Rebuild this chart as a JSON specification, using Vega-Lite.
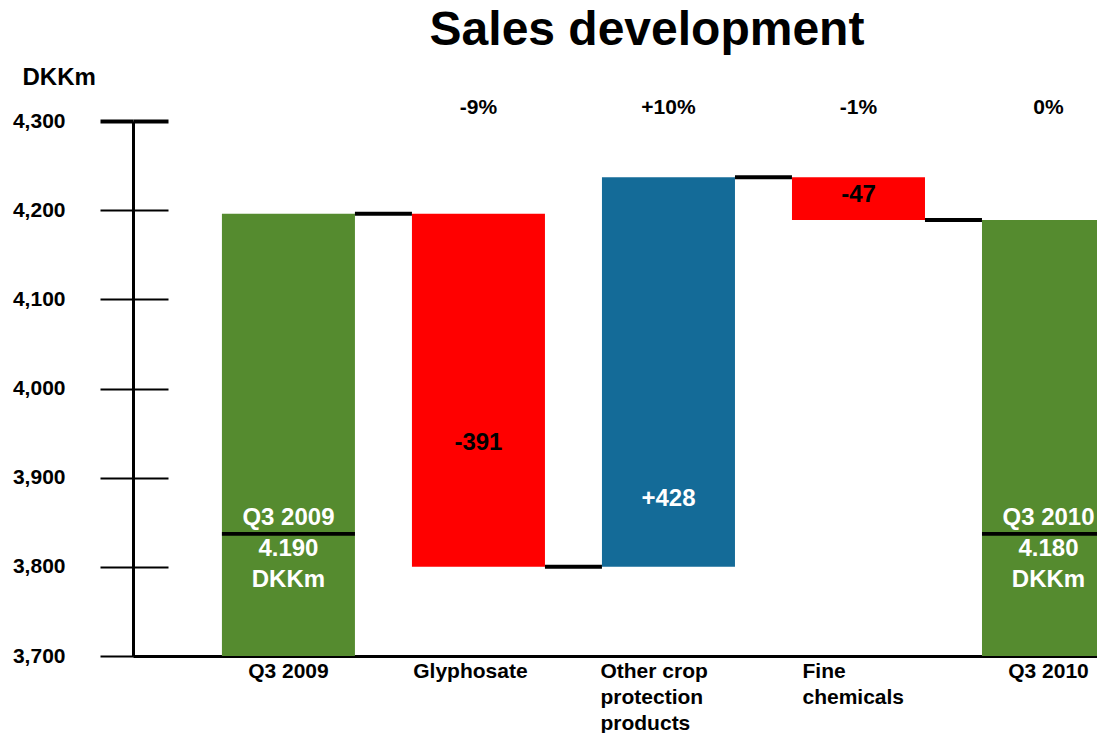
{
  "$schema": "https://vega.github.io/schema/vega-lite/v6.json",
  "width": 964,
  "height": 535,
  "autosize": "none",
  "padding": {"left": 133, "top": 121, "right": 0, "bottom": 77},
  "background": "white",
  "config": {"view": {"stroke": null}, "font": "Liberation Sans"},
  "title": {
    "text": "Sales development",
    "font": "Liberation Sans",
    "fontSize": 48,
    "fontWeight": "bold",
    "color": "black",
    "anchor": "middle",
    "frame": "group",
    "baseline": "alphabetic",
    "dx": 32,
    "offset": -28
  },
  "resolve": {"axis": {"y": "independent"}},
  "data": {
    "values": [
      {"cat": "Q3 2009", "start": 3700, "end": 4196, "kind": "total", "label": "Q3 2009|4.190|DKKm", "labelY": 3855, "pct": ""},
      {"cat": "Glyphosate", "start": 4196, "end": 3800, "kind": "neg", "label": "-391", "labelY": 3939, "pct": "-9%"},
      {"cat": "Other crop protection products", "start": 3800, "end": 4237, "kind": "pos", "label": "+428", "labelY": 3876, "pct": "+10%"},
      {"cat": "Fine chemicals", "start": 4237, "end": 4189, "kind": "neg", "label": "-47", "labelY": 4217, "pct": "-1%"},
      {"cat": "Q3 2010", "start": 3700, "end": 4189, "kind": "total", "label": "Q3 2010|4.180|DKKm", "labelY": 3855, "pct": "0%"}
    ]
  },
  "layer": [
    {
      "mark": {"type": "bar"},
      "encoding": {
        "x": {
          "field": "cat",
          "type": "nominal",
          "sort": null,
          "scale": {
            "domain": ["Q3 2009", "Glyphosate", "Other crop protection products", "Fine chemicals", "Q3 2010"],
            "range": [0, 982],
            "paddingInner": 0.3,
            "paddingOuter": 0.234,
            "align": 1
          },
          "axis": {
            "title": null,
            "domain": true,
            "domainColor": "black",
            "domainWidth": 3,
            "ticks": false,
            "tickSize": 0,
            "labelAngle": 0,
            "labelFont": "Liberation Sans",
            "labelFontSize": 21,
            "labelFontWeight": "bold",
            "labelColor": "black",
            "labelPadding": 4,
            "labelLineHeight": 26,
            "labelBaseline": "top",
            "labelOverlap": false,
            "labelLimit": 0,
            "labelExpr": "datum.value == 'Other crop protection products' ? ['Other crop', 'protection', 'products'] : datum.value == 'Fine chemicals' ? ['Fine', 'chemicals'] : datum.label",
            "labelAlign": {
              "condition": {"test": "datum.value == 'Other crop protection products' || datum.value == 'Fine chemicals'", "value": "left"},
              "value": "center"
            },
            "labelOffset": {
              "condition": [
                {"test": "datum.value == 'Other crop protection products'", "value": -68},
                {"test": "datum.value == 'Fine chemicals'", "value": -56},
                {"test": "datum.value == 'Glyphosate'", "value": -8}
              ],
              "value": 0
            }
          }
        },
        "y": {
          "field": "start",
          "type": "quantitative",
          "scale": {"domain": [3700, 4300], "zero": false, "nice": false},
          "axis": {
            "orient": "left",
            "values": [3700, 3800, 3900, 4000, 4100, 4200, 4300],
            "format": ",.0f",
            "grid": false,
            "labelFont": "Liberation Sans",
            "labelFontSize": 21,
            "labelFontWeight": "bold",
            "labelColor": "black",
            "labelPadding": 35,
            "tickSize": 33,
            "tickColor": "black",
            "tickWidth": {"condition": {"test": "datum.value == 4300", "value": 4}, "value": 2},
            "domainColor": "black",
            "domainWidth": 3,
            "title": "DKKm",
            "titleAngle": 0,
            "titleAlign": "left",
            "titleBaseline": "middle",
            "titleX": -111,
            "titleY": -44,
            "titleFont": "Liberation Sans",
            "titleFontSize": 24,
            "titleFontWeight": "bold",
            "titleColor": "black"
          }
        },
        "y2": {"field": "end"},
        "color": {
          "field": "kind",
          "type": "nominal",
          "scale": {"domain": ["total", "neg", "pos"], "range": ["#558B2F", "#FF0000", "#146B98"]},
          "legend": null
        }
      }
    },
    {
      "transform": [{"filter": "datum.kind == 'total'"}],
      "mark": {"type": "bar", "color": "black"},
      "encoding": {
        "x": {"field": "cat", "type": "nominal", "sort": null},
        "y": {
          "datum": 3835,
          "axis": {
            "orient": "left",
            "offset": -35,
            "values": [3700, 3800, 3900, 4000, 4100, 4200, 4300],
            "labels": false,
            "domain": false,
            "grid": false,
            "title": null,
            "tickSize": 35,
            "tickColor": "black",
            "tickWidth": {"condition": {"test": "datum.value == 4300", "value": 4}, "value": 2}
          }
        },
        "y2": {"datum": 3839}
      }
    },
    {
      "transform": [{"filter": "datum.cat != 'Q3 2010'"}],
      "mark": {"type": "tick", "orient": "horizontal", "size": 57, "thickness": 4, "color": "black", "opacity": 1, "xOffset": 95},
      "encoding": {
        "x": {"field": "cat", "type": "nominal", "sort": null},
        "y": {"field": "end", "type": "quantitative", "axis": null}
      }
    },
    {
      "mark": {"type": "text", "font": "Liberation Sans", "fontSize": 24, "fontWeight": "bold", "lineBreak": "|", "lineHeight": 31, "baseline": "middle", "align": "center"},
      "encoding": {
        "x": {"field": "cat", "type": "nominal", "sort": null},
        "y": {"field": "labelY", "type": "quantitative", "axis": null},
        "text": {"field": "label"},
        "color": {"condition": {"test": "datum.kind == 'neg'", "value": "black"}, "value": "white"}
      }
    },
    {
      "mark": {"type": "text", "font": "Liberation Sans", "fontSize": 21, "fontWeight": "bold", "baseline": "middle", "align": "center", "dy": -13, "color": "black"},
      "encoding": {
        "x": {"field": "cat", "type": "nominal", "sort": null},
        "y": {"datum": 4300, "axis": null},
        "text": {"field": "pct"}
      }
    }
  ]
}
